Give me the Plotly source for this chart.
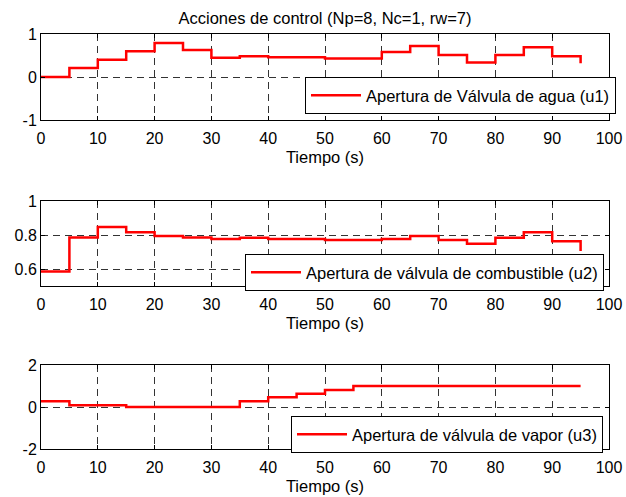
import plotly.graph_objects as go

t = [0, 5, 10, 15, 20, 25, 30, 35, 40, 45, 50, 55, 60, 65, 70, 75, 80, 85, 90, 95]
u1 = [0.0, 0.21, 0.40, 0.60, 0.79, 0.63, 0.45, 0.48, 0.46, 0.46, 0.43, 0.43,
      0.58, 0.72, 0.51, 0.34, 0.51, 0.69, 0.48, 0.32]
u2 = [0.586, 0.786, 0.847, 0.816, 0.794, 0.786, 0.776, 0.784, 0.776, 0.776,
      0.771, 0.771, 0.776, 0.794, 0.771, 0.749, 0.784, 0.816, 0.763, 0.706]
u3 = [0.27, 0.08, 0.08, 0.0, 0.0, 0.0, 0.0, 0.27, 0.46, 0.63, 0.81, 1.0,
      1.0, 1.0, 1.0, 1.0, 1.0, 1.0, 1.0, 1.0]

names = ["Apertura de Válvula de agua (u1)",
         "Apertura de válvula de combustible (u2)",
         "Apertura de válvula de vapor (u3)"]
title = "Acciones de control (Np=8, Nc=1, rw=7)"
xlabel = "Tiempo (s)"
xticks = [0, 10, 20, 30, 40, 50, 60, 70, 80, 90, 100]
yranges = [[-1, 1], [0.5, 1], [-2, 2]]
yticks = [[-1, 0, 1], [0.6, 0.8, 1], [-2, 0, 2]]
ytexts = [["-1", "0", "1"], ["0.6", "0.8", "1"], ["-2", "0", "2"]]

FONT = "Liberation Sans, Arial, Helvetica, sans-serif"
W, H = 626, 497
AX_L, AX_R, AX_T, AX_B = 41, 609, 34, 449  # plot area in pixels
ml, mr, mt, mb = AX_L, W - AX_R, AX_T, H - AX_B
ph = AX_B - AX_T
pw = AX_R - AX_L

def dom(top, bot):
    return [(AX_B - bot) / ph, (AX_B - top) / ph]

domains = [dom(34, 120), dom(201, 286), dom(365, 449)]
legpos = [(305, 77), (245, 254), (291, 416)]

fig = go.Figure()
series = [u1, u2, u3]
for i in range(3):
    sfx = "" if i == 0 else str(i + 1)
    fig.add_trace(go.Scatter(
        x=t, y=series[i], mode="lines", line=dict(color="#ff0000", width=2.5, shape="hv"),
        name=names[i], xaxis="x" + sfx, yaxis="y" + sfx,
        legend="legend" + sfx, showlegend=True))

layout = dict(
    template="none",
    width=W, height=H, plot_bgcolor="white", paper_bgcolor="white",
    margin=dict(l=ml, r=mr, t=mt, b=mb, autoexpand=False),
    font=dict(family=FONT, size=16, color="black"),
    title=dict(text=title, x=0.5, xref="paper",
               xanchor="center", y=1 - 18 / H, yanchor="middle",
               font=dict(size=16.5, family=FONT, color="black")),
)
for i in range(3):
    sfx = "" if i == 0 else str(i + 1)
    layout["xaxis" + sfx] = dict(
        domain=[0, 1], anchor="y" + sfx, range=[0, 100], tickvals=xticks,
        showline=True, linecolor="black", linewidth=1, mirror="ticks",
        ticks="inside", ticklen=4, tickcolor="black", automargin=False,
        ticklabelstandoff=4,
        showgrid=True, gridcolor="#333333", griddash="7px,5px", gridwidth=1, zeroline=False,
        title=dict(text=xlabel, standoff=5, font=dict(size=16.5, family=FONT, color="black")),
        tickfont=dict(size=16, family=FONT, color="black"))
    layout["yaxis" + sfx] = dict(
        domain=domains[i], anchor="x" + sfx, range=yranges[i], tickvals=yticks[i], ticktext=ytexts[i],
        showline=True, linecolor="black", linewidth=1, mirror="ticks",
        ticks="inside", ticklen=4, tickcolor="black", automargin=False,
        showgrid=True, gridcolor="#333333", griddash="7px,5px", gridwidth=1, zeroline=False,
        tickfont=dict(size=16, family=FONT, color="black"))
    lx, ly = legpos[i]
    layout["legend" + sfx] = dict(
        x=(lx - AX_L) / pw, y=(AX_B - ly) / ph, xanchor="left", yanchor="top",
        bgcolor="white", bordercolor="black", borderwidth=1,
        font=dict(size=16.5, family=FONT, color="black"), itemwidth=50, tracegroupgap=0)
fig.update_layout(**layout)
fig.write_html("out.html", config={"displayModeBar": False},
               post_script="document.body.style.margin='0';document.body.style.overflow='hidden';")
